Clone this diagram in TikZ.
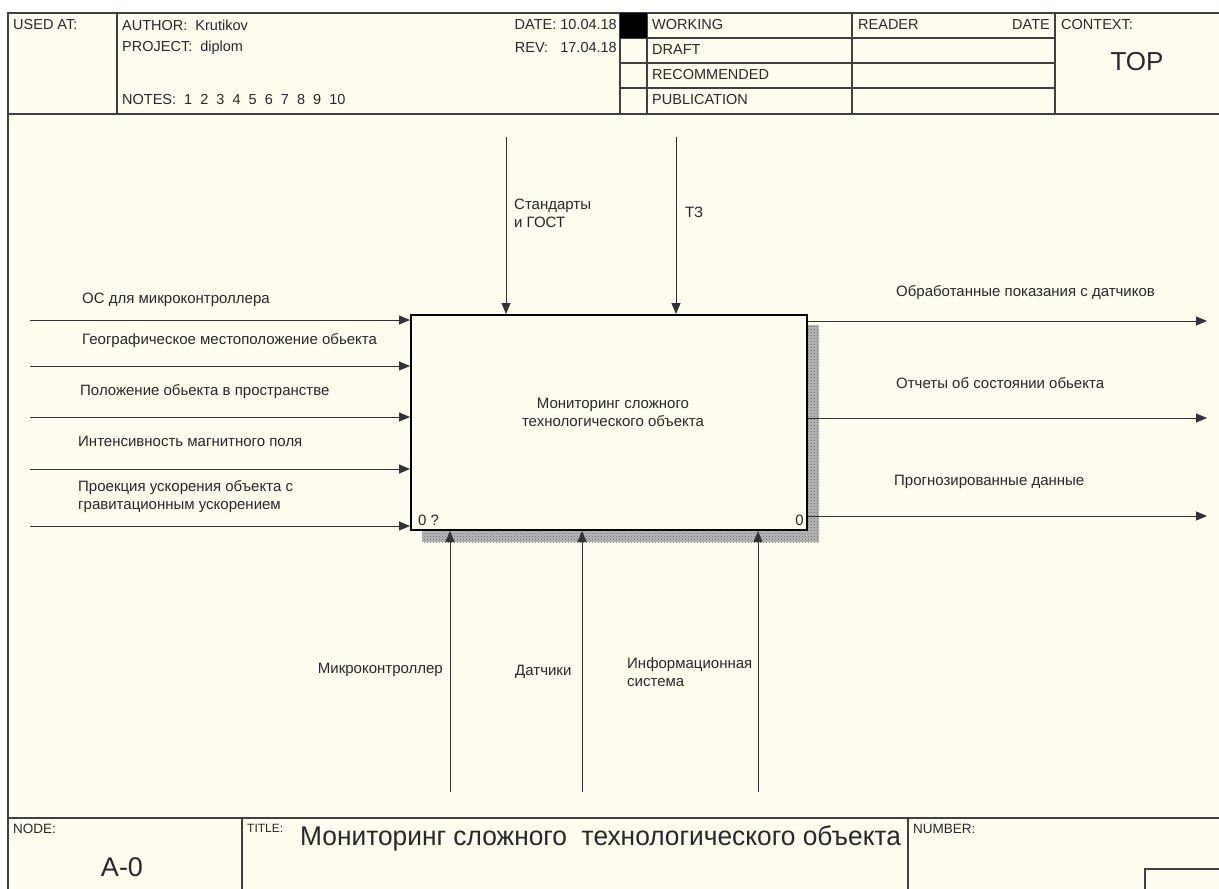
\documentclass[tikz,border=0pt]{standalone}
\usepackage{fontspec}
\setmainfont{Liberation Sans}
\usetikzlibrary{arrows.meta,patterns}
\definecolor{paper}{RGB}{255,253,240}
\definecolor{ink}{RGB}{40,40,40}
\begin{document}
\begin{tikzpicture}[x=1pt,y=-1pt,
  lab/.style={font=\fontsize{15}{18}\selectfont, inner sep=0pt, align=left, text=ink},
  hdr/.style={font=\fontsize{14.5}{16}\selectfont, inner sep=0pt, anchor=west, text=ink},
  tiny/.style={font=\fontsize{13.5}{14}\selectfont, inner sep=0pt, anchor=north west, text=ink},
  frame/.style={line width=1.5pt, draw=black!75},
  thin/.style={line width=1.2pt, draw=black!75},
  arr/.style={line width=1pt, draw=black!80, -{Triangle[length=11pt,width=9pt]}},
  shadow/.style={fill=black!28, postaction={pattern=crosshatch dots, pattern color=black!60}},
  func/.style={draw=black, line width=2pt, fill=paper, minimum width=396pt, minimum height=215pt, inner sep=0pt},
]
\useasboundingbox (0,0) rectangle (1219,889);
\fill[white] (0,0) rectangle (1219,889);
\fill[paper] (8,13) rectangle (1219,889);

% header frame
\draw[frame] (1225,13) -- (8,13) -- (8,895);
\draw[frame] (8,114) -- (1225,114);
\foreach \x in {117,620,647,852,1055} \draw[thin] (\x,13) -- (\x,114);
\foreach \y in {38,63,88} \draw[thin] (620,\y) -- (1055,\y);
\fill[black] (620,13) rectangle (647,38);

\node[hdr] (usedat) at (13,25) {USED AT:};
\node[hdr] (author) at (122,25) {AUTHOR:\ \ Krutikov};
\node[hdr] (project) at (122,48) {PROJECT:\ \ diplom};
\node[hdr] (notes) at (122,100) {NOTES:\ \ 1\ \ 2\ \ 3\ \ 4\ \ 5\ \ 6\ \ 7\ \ 8\ \ 9\ \ 10};
\node[hdr,anchor=east] (date) at (617,25) {DATE:\ 10.04.18};
\node[hdr,anchor=east] (rev) at (617,48) {REV:\ \ \ 17.04.18};
\node[hdr] (working) at (652,25) {WORKING};
\node[hdr] (draft) at (652,50) {DRAFT};
\node[hdr] (recom) at (652,75) {RECOMMENDED};
\node[hdr] (public) at (652,100) {PUBLICATION};
\node[hdr] (reader) at (858,25) {READER};
\node[hdr,anchor=east] (rdate) at (1050,25) {DATE};
\node[hdr] (context) at (1061,25) {CONTEXT:};
\node[font=\fontsize{26}{28}\selectfont, inner sep=0pt, text=ink] (top) at (1137,62) {TOP};

% footer frame
\draw[frame] (8,818) -- (1225,818);
\draw[thin] (242,818) -- (242,895);
\draw[thin] (908,818) -- (908,895);
\draw[thin] (1145,895) -- (1145,869) -- (1225,869);
\node[tiny] (nodel) at (13,824) {NODE:};
\node[tiny,font=\fontsize{12}{13}\selectfont] (titlel) at (247,824) {TITLE:};
\node[tiny] (numberl) at (913,824) {NUMBER:};
\node[inner sep=0pt, anchor=west, text=ink] (title) at (300,838) {\scalebox{0.975}[1]{\fontsize{27}{29}\selectfont Мониторинг сложного\ \ технологического объекта}};
\node[inner sep=0pt, text=ink, font=\fontsize{27}{29}\selectfont] (nodeid) at (122,867) {A-0};

% shadow
\fill[shadow] (807,325) rectangle (819,542);
\fill[shadow] (422,530) rectangle (807,542);

% function box
\node[func] (A0) at (609,422.5) {};
\node[inner sep=0pt, align=center, font=\fontsize{15}{18}\selectfont, text=ink] (A0text) at (613,412) {Мониторинг сложного\\ технологического объекта};
\node[lab, anchor=south west] (num0) at (418,526) {0 ?};
\node[lab, anchor=south east] (num1) at (804,526) {0};

% inputs
\coordinate (i1) at (30,320);
\coordinate (i2) at (30,366);
\coordinate (i3) at (30,417);
\coordinate (i4) at (30,469);
\coordinate (i5) at (30,526);
\foreach \c in {i1,i2,i3,i4,i5} \draw[arr] (\c) -- (\c -| A0.west);
\node[lab, anchor=west] (li1) at (82,300) {ОС для микроконтроллера};
\node[lab, anchor=west] (li2) at (82,341) {Географическое местоположение обьекта};
\node[lab, anchor=west] (li3) at (80,392) {Положение обьекта в пространстве};
\node[lab, anchor=west] (li4) at (78,441) {Интенсивность магнитного поля};
\node[lab, anchor=west] (li5) at (78,497) {Проекция ускорения объекта с\\гравитационным ускорением};

% controls
\coordinate (c1) at (506,137);
\coordinate (c2) at (676,137);
\foreach \c in {c1,c2} \draw[arr] (\c) -- (\c |- A0.north);
\node[lab, anchor=west] (lc1) at (514,213) {Стандарты\\и ГОСТ};
\node[lab, anchor=west] (lc2) at (685,212) {ТЗ};

% outputs
\coordinate (o1) at (1207,321);
\coordinate (o2) at (1207,418);
\coordinate (o3) at (1207,516);
\foreach \c in {o1,o2,o3} \draw[arr] (\c -| A0.east) -- (\c);
\node[lab, anchor=west] (lo1) at (896,293) {Обработанные показания с датчиков};
\node[lab, anchor=west] (lo2) at (896,383) {Отчеты об состоянии обьекта};
\node[lab, anchor=west] (lo3) at (894,482) {Прогнозированные данные};

% mechanisms
\coordinate (m1) at (450,792);
\coordinate (m2) at (582,792);
\coordinate (m3) at (758,792);
\foreach \c in {m1,m2,m3} \draw[arr] (\c) -- (\c |- A0.south);
\node[lab, anchor=east] (lm1) at (443,670) {Микроконтроллер};
\node[lab, anchor=west] (lm2) at (515,672) {Датчики};
\node[lab, anchor=west] (lm3) at (627,672) {Информационная\\система};
\end{tikzpicture}
\end{document}
